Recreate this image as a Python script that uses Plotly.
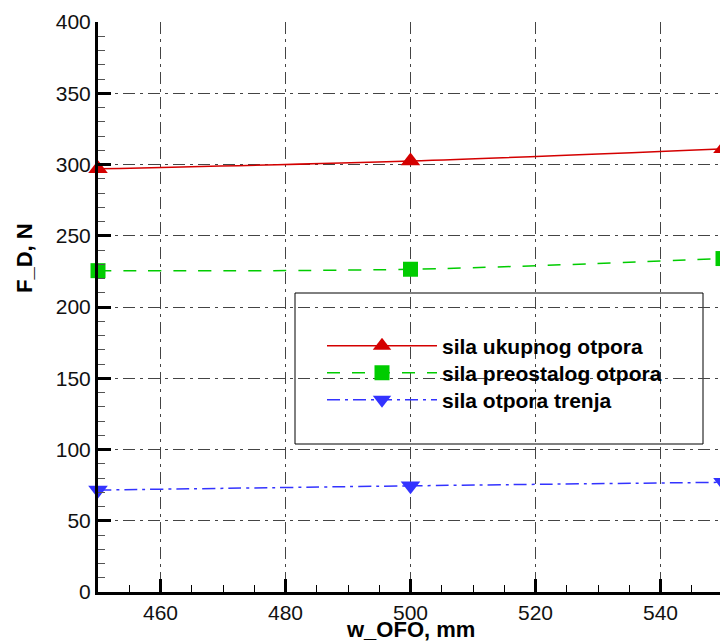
import plotly.graph_objects as go

# ---- data ----
w_ofo = [450, 500, 550]
sila_ukupnog_otpora = [297.0, 302.5, 311.0]
sila_preostalog_otpora = [225.5, 226.5, 234.0]
sila_otpora_trenja = [71.5, 74.5, 77.0]
series_names = ["sila ukupnog otpora", "sila preostalog otpora", "sila otpora trenja"]
x_tick_vals = [460, 480, 500, 520, 540]
y_tick_vals = [0, 50, 100, 150, 200, 250, 300, 350, 400]

FONT = "Liberation Sans, Arial, sans-serif"

W, H = 723, 644
L, T, B_EDGE = 98, 22, 592
ml, mt, mb = L, T, H - B_EDGE
pw, ph = W - ml, H - mt - mb

def px_x(p):
    return (p - ml) / pw

def px_y(p):
    return (H - mb - p) / ph

fig = go.Figure()
styles = [
    dict(color="#d40000", dash="solid", symbol="triangle-up", size=17),
    dict(color="#00cc00", dash="13px,12px", symbol="square", size=15),
    dict(color="#3333ff", dash="13px,5px,3px,5px", symbol="triangle-down", size=17),
]
legend_ids = ["legend", "legend2", "legend3"]
row_y = [346, 373, 400]
for name, ys, st, lg in zip(series_names,
                            [sila_ukupnog_otpora, sila_preostalog_otpora, sila_otpora_trenja],
                            styles, legend_ids):
    fig.add_trace(go.Scatter(
        x=w_ofo, y=ys, name=name, mode="lines+markers", legend=lg,
        line=dict(color=st["color"], width=1.5, dash=st["dash"], shape="spline"),
        marker=dict(symbol=st["symbol"], size=st["size"], color=st["color"],
                    line=dict(width=0)),
        cliponaxis=False,
    ))

axis_common = dict(
    showline=True, linewidth=3, linecolor="black",
    ticks="inside", ticklen=13, tickwidth=3, tickcolor="black",
    showgrid=True, gridcolor="#444444", gridwidth=1, griddash="12px,5px,3px,5px",
    zeroline=False,
    tickfont=dict(family=FONT, size=21, color="#111111"),
)

fig.update_xaxes(
    range=[450, 550], tickvals=x_tick_vals,
    minor=dict(dtick=5, tick0=450, ticks="inside", ticklen=7, tickwidth=1,
               tickcolor="black", showgrid=False),
    **axis_common,
)
fig.update_yaxes(
    range=[0, 400], tickvals=y_tick_vals,
    minor=dict(dtick=10, tick0=0, ticks="inside", ticklen=7, tickwidth=1,
               tickcolor="#555555", showgrid=False),
    **axis_common,
)

# legend box
fig.add_shape(type="rect", xref="paper", yref="paper",
              x0=px_x(295), x1=px_x(703), y0=px_y(444), y1=px_y(293),
              line=dict(color="black", width=1), fillcolor="white", layer="between")

legend_style = dict(xanchor="left", yanchor="middle",
                    bgcolor="rgba(0,0,0,0)", borderwidth=0, itemwidth=110,
                    font=dict(family=FONT, size=21, color="black", weight="bold"))
legends = {lg: dict(x=px_x(322), y=px_y(ry), **legend_style)
           for lg, ry in zip(legend_ids, row_y)}

fig.update_layout(
    width=W, height=H,
    margin=dict(l=ml, r=0, t=mt, b=mb, autoexpand=False),
    plot_bgcolor="white", paper_bgcolor="white",
    showlegend=True,
    annotations=[
        dict(text="w_OFO, mm", xref="paper", yref="paper",
             x=px_x(410), y=px_y(629), xanchor="center", yanchor="middle",
             showarrow=False, font=dict(family=FONT, size=22, color="black", weight="bold")),
        dict(text="F_D, N", xref="paper", yref="paper",
             x=px_x(24), y=px_y(258), xanchor="center", yanchor="middle", textangle=-90,
             showarrow=False, font=dict(family=FONT, size=22, color="black", weight="bold")),
    ],
    **legends,
)

fig.write_html(
    "out.html",
    config={"displayModeBar": False},
    post_script="document.body.style.margin='0';document.body.style.overflow='hidden';",
)
